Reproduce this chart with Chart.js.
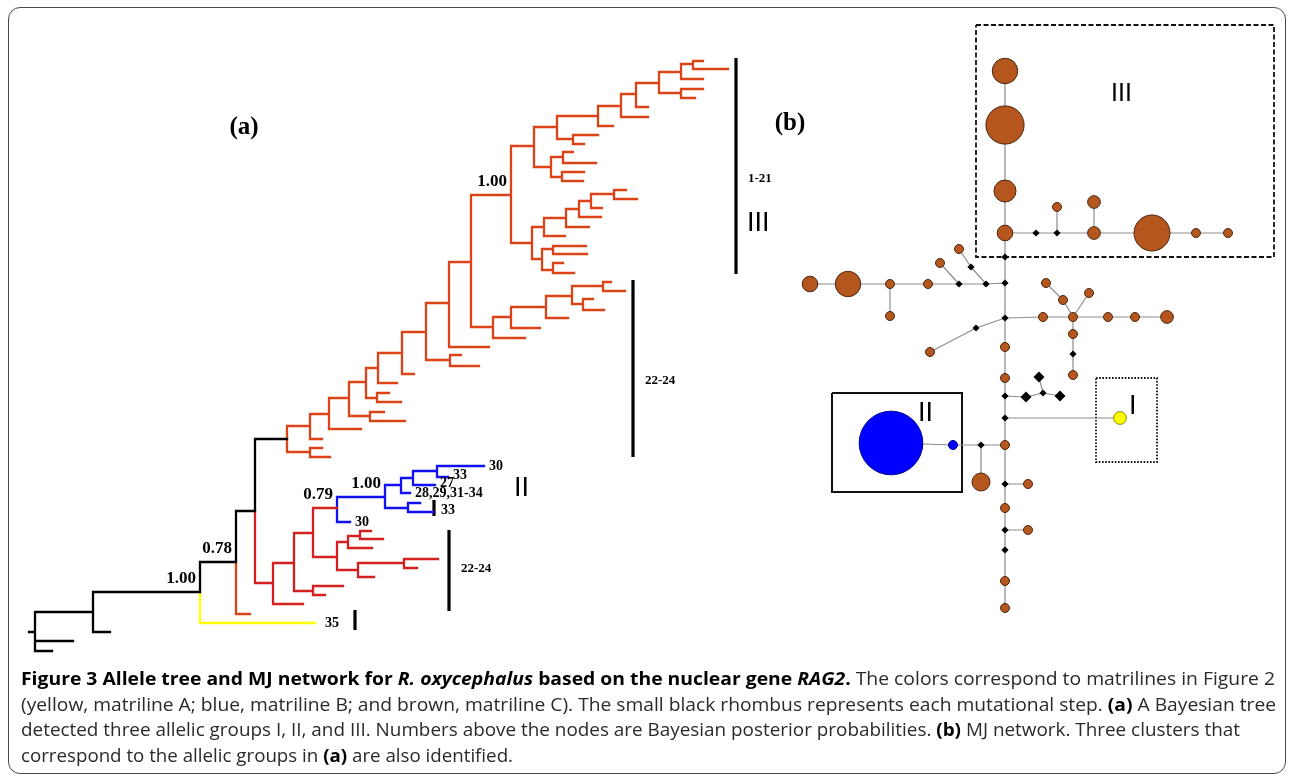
<!DOCTYPE html>
<html>
<head>
<meta charset="utf-8">
<script src="https://cdn.jsdelivr.net/npm/chart.js@4.4.1/dist/chart.umd.min.js"></script>
<style>
  html, body { margin: 0; padding: 0; background: #fff; }
  #wrap { position: relative; width: 1293px; height: 778px; overflow: hidden; }
  #frame { position: absolute; left: 8px; top: 7px; width: 1276px; height: 765px;
           border: 1.5px solid #4a4a4a; border-radius: 12px; }
  #fig { position: absolute; left: 0; top: 0; }
  .lbl { position: absolute; white-space: nowrap; line-height: 1; color: #000; }
  .serif { font-family: "Liberation Serif", "Times New Roman", serif; font-weight: bold; }
  .sans { font-family: "Liberation Sans", Arial, sans-serif; }
  #caption { position: absolute; left: 21px; top: 665px; font-family: "Open Sans", sans-serif;
             font-size: 18.5px; line-height: 25.5px; color: #2a2a2a; white-space: nowrap; }
  #caption > div > span { display: inline-block; transform-origin: 0 50%; }
  #caption b { color: #000; }
</style>
</head>
<body>
<div id="wrap">
  <div id="frame"></div>
  <canvas id="fig" width="1293" height="778"></canvas>
  <div id="caption">
    <div><span><b>Figure 3 Allele tree and MJ network for <i>R. oxycephalus</i> based on the nuclear gene <i>RAG2</i>.</b> The colors correspond to matrilines in Figure 2</span></div>
    <div><span>(yellow, matriline A; blue, matriline B; and brown, matriline C). The small black rhombus represents each mutational step. <b>(a)</b> A Bayesian tree</span></div>
    <div><span>detected three allelic groups I, II, and III. Numbers above the nodes are Bayesian posterior probabilities. <b>(b)</b> MJ network. Three clusters that</span></div>
    <div><span>correspond to the allelic groups in <b>(a)</b> are also identified.</span></div>
  </div>
</div>
<script>
// ---- (a) Bayesian allele tree: [id, parent, depth, row, lineage] ----
const treeNodes = [
  ['r', null, 29, 632, 'k'],
  ['n0', 'r', 35, 632, 'k'],
  ['t1', 'n0', 73, 641, 'k'],
  ['t2', 'n0', 52, 651, 'k'],
  ['n1', 'n0', 93, 612, 'k'],
  ['t3', 'n1', 110, 632, 'k'],
  ['n2', 'n1', 200, 592, 'k'],
  ['t35', 'n2', 315, 623, 'y'],
  ['n3', 'n2', 236, 562, 'k'],
  ['t4', 'n3', 250, 614, 'o'],
  ['n4', 'n3', 255, 511, 'k'],
  ['E', 'n4', 287, 439, 'k'],
  ['F', 'n4', 273, 583, 'r'],
  // upper (brown) clade
  ['e1', 'E', 310, 452, 'o'], ['e1a', 'e1', 322, 448, 'o'], ['e1b', 'e1', 330, 457, 'o'],
  ['e2', 'E', 310, 426, 'o'], ['e2a', 'e2', 322, 439, 'o'],
  ['e3', 'e2', 329, 414, 'o'], ['e3a', 'e3', 361, 429, 'o'],
  ['e4', 'e3', 349, 398, 'o'],
  ['e4n', 'e4', 370, 416, 'o'], ['e4na', 'e4n', 384, 412, 'o'], ['e4nb', 'e4n', 405, 421, 'o'],
  ['e5', 'e4', 366, 382, 'o'],
  ['e5n', 'e5', 377, 398, 'o'], ['e5na', 'e5n', 389, 393, 'o'], ['e5nb', 'e5n', 401, 402, 'o'],
  ['e6', 'e5', 378, 368, 'o'], ['e6a', 'e6', 397, 383, 'o'],
  ['e7', 'e6', 402, 353, 'o'], ['e7a', 'e7', 414, 374, 'o'],
  ['e8', 'e7', 426, 332, 'o'],
  ['e8n', 'e8', 450, 360, 'o'], ['e8na', 'e8n', 461, 355, 'o'], ['e8nb', 'e8n', 479, 366, 'o'],
  ['e9', 'e8', 449, 303, 'o'], ['e9a', 'e9', 489, 347, 'o'],
  ['x1', 'e9', 471, 262, 'o'],
  ['p1', 'x1', 493, 327, 'o'], ['p1a', 'p1', 525, 338, 'o'],
  ['p2', 'p1', 511, 317, 'o'], ['p2a', 'p2', 540, 328, 'o'],
  ['p3', 'p2', 546, 307, 'o'], ['p3a', 'p3', 568, 318, 'o'],
  ['p4', 'p3', 572, 296, 'o'],
  ['p5', 'p4', 603, 286, 'o'], ['p5a', 'p5', 611, 282, 'o'], ['p5b', 'p5', 625, 291, 'o'],
  ['p6', 'p4', 583, 304, 'o'], ['p6a', 'p6', 593, 299, 'o'], ['p6b', 'p6', 604, 310, 'o'],
  ['x2', 'x1', 511, 195, 'o'],
  ['u1', 'x2', 534, 146, 'o'],
  ['u3', 'u1', 551, 167, 'o'],
  ['u3a', 'u3', 563, 157, 'o'], ['u3a1', 'u3a', 573, 152, 'o'], ['u3a2', 'u3a', 596, 163, 'o'],
  ['u3b', 'u3', 562, 177, 'o'], ['u3b1', 'u3b', 584, 172, 'o'], ['u3b2', 'u3b', 583, 181, 'o'],
  ['u2', 'u1', 557, 127, 'o'],
  ['u2n', 'u2', 573, 139, 'o'], ['u2n1', 'u2n', 598, 135, 'o'], ['u2n2', 'u2n', 584, 144, 'o'],
  ['u4', 'u2', 598, 116, 'o'], ['u4a', 'u4', 613, 126, 'o'],
  ['u5', 'u4', 621, 106, 'o'], ['u5a', 'u5', 648, 117, 'o'],
  ['u6', 'u5', 636, 94, 'o'], ['u6a', 'u6', 648, 107, 'o'],
  ['u7', 'u6', 659, 83, 'o'],
  ['u7n', 'u7', 681, 93, 'o'], ['u7n1', 'u7n', 703, 89, 'o'], ['u7n2', 'u7n', 695, 98, 'o'],
  ['u8', 'u7', 681, 72, 'o'], ['u8a', 'u8', 703, 79, 'o'],
  ['u9', 'u8', 693, 64, 'o'], ['u9a', 'u9', 703, 61, 'o'], ['u9b', 'u9', 728, 69, 'o'],
  ['l1', 'x2', 532, 243, 'o'],
  ['l3', 'l1', 542, 259, 'o'],
  ['l3a', 'l3', 553, 249, 'o'], ['l3a1', 'l3a', 586, 246, 'o'], ['l3a2', 'l3a', 587, 254, 'o'],
  ['l3b', 'l3', 553, 270, 'o'], ['l3b1', 'l3b', 563, 263, 'o'], ['l3b2', 'l3b', 574, 273, 'o'],
  ['l2', 'l1', 544, 227, 'o'], ['l2a', 'l2', 565, 236, 'o'],
  ['l4', 'l2', 566, 218, 'o'], ['l4a', 'l4', 589, 227, 'o'],
  ['l5', 'l4', 579, 209, 'o'], ['l5a', 'l5', 601, 217, 'o'],
  ['l6', 'l5', 591, 201, 'o'], ['l6a', 'l6', 602, 208, 'o'],
  ['l7', 'l6', 614, 194, 'o'], ['l7a', 'l7', 626, 190, 'o'], ['l7b', 'l7', 637, 199, 'o'],
  // lower (red) clade with the blue group
  ['Fa', 'F', 303, 604, 'r'],
  ['f1', 'F', 294, 563, 'r'],
  ['f1n', 'f1', 313, 591, 'r'], ['f1n1', 'f1n', 343, 586, 'r'], ['f1n2', 'f1n', 325, 595, 'r'],
  ['R0', 'f1', 313, 533, 'r'],
  ['B0', 'R0', 337, 508, 'r'],
  ['Bt30', 'B0', 350, 522, 'b'],
  ['B1', 'B0', 385, 497, 'b'],
  ['B2', 'B1', 401, 485, 'b'], ['B2a', 'B2', 410, 493, 'b'],
  ['B4', 'B2', 413, 478, 'b'], ['B4a', 'B4', 435, 485, 'b'],
  ['B5', 'B4', 437, 471, 'b'], ['B5a', 'B5', 484, 466, 'b'], ['B5b', 'B5', 448, 477, 'b'],
  ['B3', 'B1', 408, 508, 'b'], ['B3a', 'B3', 420, 503, 'b'], ['B3b', 'B3', 433, 512, 'b'],
  ['R1', 'R0', 337, 557, 'r'],
  ['R2', 'R1', 348, 542, 'r'], ['R2a', 'R2', 372, 548, 'r'],
  ['R4', 'R2', 360, 536, 'r'], ['R4a', 'R4', 371, 531, 'r'], ['R4b', 'R4', 383, 539, 'r'],
  ['R3', 'R1', 358, 570, 'r'], ['R3a', 'R3', 374, 577, 'r'],
  ['R5', 'R3', 404, 563, 'r'], ['R5a', 'R5', 438, 559, 'r'], ['R5b', 'R5', 417, 568, 'r']
];

// posterior probabilities above nodes
const posteriors = [['x2', '1.00'], ['n2', '1.00'], ['n3', '0.78'], ['B0', '0.79'], ['B1', '1.00']];
// haplotype numbers at tips
const tipLabels = [['t35', '35'], ['B5a', '30'], ['B5b', '33'], ['B4a', '27'],
                   ['B2a', '28,29,31-34'], ['Bt30', '30'], ['B3b', '33']];
// clade bars: [x, top, bottom, label, label row]
const cladeBars = [[736, 58, 274, '1-21', 177], [633, 280, 457, '22-24', 379], [449, 530, 611, '22-24', 567],
                   [434, 500, 516, '', 0], [355, 610, 630, '', 0]];

// ---- (b) MJ network: haplotypes [id, x, y, count, lineage] ----
const haplotypes = [
  ['H1', 1005, 71, 8, 'c'], ['H2', 1005, 125, 18, 'c'], ['H3', 1005, 191, 6, 'c'], ['H4', 1005, 233, 3, 'c'],
  ['H5', 1057, 207, 1, 'c'], ['H6', 1094, 233, 2, 'c'], ['H7', 1094, 202, 2, 'c'], ['H8', 1152, 233, 16, 'c'],
  ['H9', 1196, 233, 1, 'c'], ['H10', 1228, 233, 1, 'c'], ['H11', 959, 249, 1, 'c'], ['H12', 940, 263, 1, 'c'],
  ['H13', 810, 284, 3, 'c'], ['H14', 848, 284, 8, 'c'], ['H15', 890, 284, 1, 'c'], ['H16', 890, 316, 1, 'c'],
  ['H17', 928, 284, 1, 'c'], ['H18', 1043, 317, 1, 'c'], ['H19', 1073, 317, 1, 'c'], ['H20', 1108, 317, 1, 'c'],
  ['H21', 1135, 317, 1, 'c'], ['H22', 1167, 317, 2, 'c'], ['H23', 1046, 283, 1, 'c'], ['H24', 1063, 300, 1, 'c'],
  ['H25', 1089, 293, 1, 'c'], ['H26', 1073, 334, 1, 'c'], ['H27', 1073, 375, 1, 'c'], ['H28', 930, 352, 1, 'c'],
  ['H29', 1005, 347, 1, 'c'], ['H30', 1005, 378, 1, 'c'], ['H31', 1005, 445, 1, 'c'], ['H32', 981, 482, 4, 'c'],
  ['H33', 1028, 484, 1, 'c'], ['H34', 1005, 508, 1, 'c'], ['H35', 1028, 530, 1, 'c'], ['H36', 1005, 581, 1, 'c'],
  ['H37', 1005, 608, 1, 'c'],
  ['B1', 891, 443, 50, 'b'], ['B2', 953, 445, 1, 'b'],
  ['Y1', 1120, 418, 2, 'y']
];
// median vectors (mutational steps): [id, x, y]
const medians = [
  ['M1', 1036, 233], ['M2', 1057, 233], ['M3', 1005, 257], ['M4', 971, 267], ['M5', 959, 284],
  ['M6', 986, 284], ['M7', 1005, 283], ['M8', 1005, 318], ['M9', 976, 328], ['M10', 1073, 354],
  ['M11', 1005, 396], ['M12', 1026, 397], ['M13', 1043, 393], ['M14', 1039, 377], ['M15', 1060, 396],
  ['M16', 1005, 418], ['M17', 981, 445], ['M18', 1005, 484], ['M19', 1005, 530], ['M20', 1005, 550]
];
const bigMedians = ['M12', 'M14', 'M15'];
const links = [
  ['H1', 'H2'], ['H2', 'H3'], ['H3', 'H4'], ['H4', 'M1'], ['M1', 'M2'], ['M2', 'H6'], ['H6', 'H8'],
  ['H8', 'H9'], ['H9', 'H10'], ['M2', 'H5'], ['H6', 'H7'], ['H4', 'M3'], ['M3', 'M7'], ['H11', 'M4'],
  ['M4', 'M6'], ['H12', 'M5'], ['H13', 'H14'], ['H14', 'H15'], ['H15', 'H17'], ['H17', 'M5'], ['M5', 'M6'],
  ['M6', 'M7'], ['H15', 'H16'], ['M7', 'M8'], ['M8', 'H18'], ['H18', 'H19'], ['H19', 'H20'], ['H20', 'H21'],
  ['H21', 'H22'], ['H23', 'H24'], ['H24', 'H19'], ['H25', 'H19'], ['H19', 'H26'], ['H26', 'M10'],
  ['M10', 'H27'], ['M8', 'M9'], ['M9', 'H28'], ['M8', 'H29'], ['H29', 'H30'], ['H30', 'M11'],
  ['M11', 'M12'], ['M12', 'M13'], ['M13', 'M15'], ['M13', 'M14'], ['M11', 'M16'], ['M16', 'Y1'],
  ['M16', 'H31'], ['H31', 'M17'], ['M17', 'B2'], ['B2', 'B1'], ['M17', 'H32'], ['H31', 'M18'],
  ['M18', 'H33'], ['M18', 'H34'], ['H34', 'M19'], ['M19', 'H35'], ['M19', 'M20'], ['M20', 'H36'],
  ['H36', 'H37']
];
// cluster boxes: [x0, y0, x1, y1, style]
const clusterBoxes = [[976, 25, 1274, 257, 'dash'], [832, 393, 962, 492, 'solid'], [1096, 378, 1157, 462, 'dot']];

// free text: [text, x, y, anchor, class, size]
const annotations = [
  ['(a)', 244, 125, 'c', 'serif', 25],
  ['(b)', 790, 121, 'c', 'serif', 25],
  ['III', 747, 222, 'l', 'sans', 27],
  ['II', 514, 487, 'l', 'sans', 27],
  ['III', 1111, 92, 'l', 'sans', 25],
  ['II', 918, 412, 'l', 'sans', 27],
  ['I', 1129, 405, 'l', 'sans', 27]
];

const lineColors = { k: '#000000', o: '#dc4316', r: '#d42020', b: '#1010f2', y: '#ffff00' };
const nodeFill = { c: '#b5561f', b: '#0000ff', y: '#ffff00' };
const nodeEdge = { c: '#4a2810', b: '#000090', y: '#8a8a00' };

// build tree segments
const tree = {};
treeNodes.forEach(n => tree[n[0]] = { x: n[2], y: n[3], c: n[4], parent: n[1], kids: [] });
Object.values(tree).forEach(n => { if (n.parent) tree[n.parent].kids.push(n); });
const treeSegs = {};
function addSeg(c, x0, y0, x1, y1) {
  (treeSegs[c] = treeSegs[c] || []).push({ x: x0, y: y0 }, { x: x1, y: y1 }, { x: x1, y: null });
}
Object.values(tree).forEach(n => {
  if (n.parent) addSeg(n.c, tree[n.parent].x, n.y, n.x, n.y);
  n.kids.forEach(k => addSeg(k.c, n.x, n.y, n.x, k.y));
});

const datasets = [];
Object.keys(treeSegs).forEach(c => datasets.push({
  data: treeSegs[c], showLine: true, borderColor: lineColors[c], borderWidth: 2.3,
  borderCapStyle: 'square', pointRadius: 0, pointHitRadius: 0, order: 3
}));

const barPts = [];
cladeBars.forEach(b => barPts.push({ x: b[0], y: b[1] }, { x: b[0], y: b[2] }, { x: b[0], y: null }));
datasets.push({ data: barPts, showLine: true, borderColor: '#000', borderWidth: 3.2, pointRadius: 0, order: 3 });

// network
const pos = {};
haplotypes.forEach(h => pos[h[0]] = { x: h[1], y: h[2] });
medians.forEach(m => pos[m[0]] = { x: m[1], y: m[2] });
const linkPts = [];
links.forEach(l => linkPts.push({ x: pos[l[0]].x, y: pos[l[0]].y }, { x: pos[l[1]].x, y: pos[l[1]].y }, { x: pos[l[1]].x, y: null }));
datasets.push({ data: linkPts, showLine: true, borderColor: '#8d8d8d', borderWidth: 1.2, pointRadius: 0, order: 4 });

clusterBoxes.forEach(b => datasets.push({
  data: [{ x: b[0], y: b[1] }, { x: b[2], y: b[1] }, { x: b[2], y: b[3] }, { x: b[0], y: b[3] }, { x: b[0], y: b[1] }],
  showLine: true, borderColor: '#111', borderWidth: b[4] === 'solid' ? 2 : 1.8,
  borderDash: b[4] === 'dash' ? [5, 2.5] : (b[4] === 'dot' ? [1.6, 1.6] : []),
  pointRadius: 0, order: 5
}));

['c', 'b', 'y'].forEach(g => {
  const hs = haplotypes.filter(h => h[4] === g);
  datasets.push({
    data: hs.map(h => ({ x: h[1], y: h[2] })),
    pointRadius: hs.map(h => 4.5 * Math.sqrt(h[3])),
    pointStyle: 'circle', backgroundColor: nodeFill[g], borderColor: nodeEdge[g], borderWidth: 1, order: 1
  });
});
datasets.push({
  data: medians.map(m => ({ x: m[1], y: m[2] })),
  pointRadius: medians.map(m => bigMedians.includes(m[0]) ? 5.5 : 3.6),
  pointStyle: 'rectRot', backgroundColor: '#000', borderColor: '#000', borderWidth: 0, order: 0
});

const chart = new Chart(document.getElementById('fig'), {
  type: 'scatter',
  data: { datasets: datasets },
  options: {
    responsive: false, animation: false, devicePixelRatio: 1,
    layout: { padding: 0, autoPadding: false },
    plugins: { legend: { display: false }, tooltip: { enabled: false } },
    events: [],
    scales: {
      x: { type: 'linear', min: 0, max: 1293, display: false },
      y: { type: 'linear', min: 0, max: 778, reverse: true, display: false }
    }
  }
});

// text overlays placed through the chart scales
const wrap = document.getElementById('wrap');
const px = v => chart.scales.x.getPixelForValue(v);
const py = v => chart.scales.y.getPixelForValue(v);
function addText(text, x, y, anchor, cls, size) {
  const el = document.createElement('div');
  el.className = 'lbl ' + cls;
  el.textContent = text;
  el.style.fontSize = size + 'px';
  el.style.left = px(x) + 'px';
  el.style.top = py(y) + 'px';
  const tx = anchor === 'r' ? '-100%' : (anchor === 'c' ? '-50%' : '0');
  el.style.transform = 'translate(' + tx + ',-50%)';
  wrap.appendChild(el);
}
posteriors.forEach(p => addText(p[1], tree[p[0]].x - 4, tree[p[0]].y - 15, 'r', 'serif', 17));
const tipShift = { t35: [10, 0], B5b: [5, -2], B4a: [5, -2], B3b: [8, -2] };
tipLabels.forEach(t => {
  const s = tipShift[t[0]] || [5, 0];
  addText(t[1], tree[t[0]].x + s[0], tree[t[0]].y + s[1], 'l', 'serif', 14);
});
cladeBars.forEach(b => { if (b[3]) addText(b[3], b[0] + 12, b[4], 'l', 'serif', 13); });
annotations.forEach(a => addText(a[0], a[1], a[2], a[3], a[4], a[5]));

// condensed caption: each line fitted to the width it takes in the figure
const captionWidths = [1254, 1255, 1219, 492];
function fitCaption() {
  document.querySelectorAll('#caption > div > span').forEach((s, i) => {
    s.style.transform = 'none';
    const w = s.getBoundingClientRect().width;
    s.style.transform = 'scaleX(' + (captionWidths[i] / w) + ')';
  });
}
fitCaption();
if (document.fonts) document.fonts.ready.then(fitCaption);
</script>
</body>
</html>
